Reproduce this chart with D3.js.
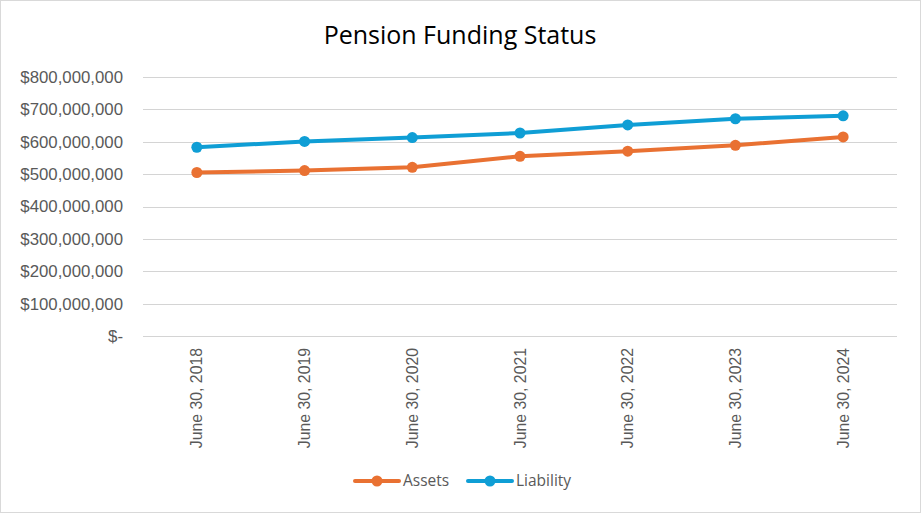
<!DOCTYPE html>
<html>
<head>
<meta charset="utf-8">
<script src="https://cdn.jsdelivr.net/npm/d3@7"></script>
<style>
  body { margin: 0; background: #fff; }
  svg { display: block; }
</style>
</head>
<body>
<div id="chart"></div>
<script>
const dates = ["June 30, 2018", "June 30, 2019", "June 30, 2020", "June 30, 2021",
  "June 30, 2022", "June 30, 2023", "June 30, 2024"]
const assets = [505000000, 511000000, 521000000, 555000000, 571000000, 589000000, 615000000]
const liability = [583000000, 601000000, 613000000, 627000000, 652000000, 671000000, 680000000]
const yTicks = [0, 100000000, 200000000, 300000000, 400000000, 500000000, 600000000, 700000000, 800000000]

const width = 921
const height = 513
const margin = { top: 77, right: 24, bottom: 177, left: 143 }

const svg = d3.select("#chart")
  .append("svg")
  .attr("width", width)
  .attr("height", height)

// chart border
svg.append("rect")
  .attr("x", 0.5).attr("y", 0.5)
  .attr("width", width - 1).attr("height", height - 1)
  .attr("fill", "#fff")
  .attr("stroke", "#d9d9d9")

const x = d3.scaleBand()
  .domain(dates)
  .range([margin.left, width - margin.right])

const y = d3.scaleLinear()
  .domain([0, 800000000])
  .range([height - margin.bottom, margin.top])

const fmt = d => d === 0 ? "$-" : "$" + d3.format(",")(d)

// gridlines
svg.append("g")
  .selectAll("line")
  .data(yTicks)
  .join("line")
  .attr("x1", margin.left)
  .attr("x2", width - margin.right)
  .attr("y1", d => Math.round(y(d)) + 0.5)
  .attr("y2", d => Math.round(y(d)) + 0.5)
  .attr("stroke", "#d4d4d4")
  .attr("stroke-width", 1.2)

// y axis labels
const yAxis = svg.append("g")
  .attr("transform", `translate(${margin.left},0)`)
  .call(d3.axisLeft(y).tickValues(yTicks).tickFormat(fmt).tickSize(0).tickPadding(20))
yAxis.select(".domain").remove()
yAxis.selectAll("text")
  .attr("font-family", "'Liberation Sans', Arial, sans-serif")
  .attr("font-size", 16.8)
  .attr("fill", "#595959")

// x axis labels, rotated
const xAxis = svg.append("g")
  .attr("transform", `translate(0,${height - margin.bottom})`)
  .call(d3.axisBottom(x).tickSize(0))
xAxis.select(".domain").remove()
xAxis.selectAll("text")
  .attr("font-family", "'Liberation Sans', Arial, sans-serif")
  .attr("font-size", 15.8)
  .attr("fill", "#595959")
  .attr("transform", "rotate(-90)")
  .attr("text-anchor", "end")
  .attr("x", -12)
  .attr("y", 0)
  .attr("dy", "0.35em")

const series = [
  { name: "Assets", values: assets, color: "#E97132" },
  { name: "Liability", values: liability, color: "#0F9ED5" }
]

const line = d3.line()
  .x((d, i) => x(dates[i]) + x.bandwidth() / 2)
  .y(d => y(d))

series.forEach(s => {
  svg.append("path")
    .datum(s.values)
    .attr("d", line)
    .attr("fill", "none")
    .attr("stroke", s.color)
    .attr("stroke-width", 4)
    .attr("stroke-linejoin", "round")
    .attr("stroke-linecap", "round")

  svg.append("g")
    .selectAll("circle")
    .data(s.values)
    .join("circle")
    .attr("cx", (d, i) => x(dates[i]) + x.bandwidth() / 2)
    .attr("cy", d => y(d))
    .attr("r", 5.5)
    .attr("fill", s.color)
})

// title
svg.append("text")
  .attr("x", 460)
  .attr("y", 44)
  .attr("text-anchor", "middle")
  .attr("font-family", "'Open Sans', 'Noto Sans', sans-serif")
  .attr("font-size", 25)
  .attr("fill", "#000")
  .text("Pension Funding Status")

// legend
const legendX = [355, 468]
const legend = svg.append("g")
  .selectAll("g")
  .data(series)
  .join("g")
  .attr("transform", (d, i) => `translate(${legendX[i]},481)`)

legend.append("line")
  .attr("x1", 0).attr("x2", 44)
  .attr("stroke", d => d.color)
  .attr("stroke-width", 4)
  .attr("stroke-linecap", "round")

legend.append("circle")
  .attr("cx", 22)
  .attr("r", 5.5)
  .attr("fill", d => d.color)

legend.append("text")
  .attr("x", 48)
  .attr("dy", "0.35em")
  .attr("font-family", "'Open Sans', 'Noto Sans', sans-serif")
  .attr("font-size", 15.5)
  .attr("fill", "#595959")
  .text(d => d.name)
</script>
</body>
</html>
